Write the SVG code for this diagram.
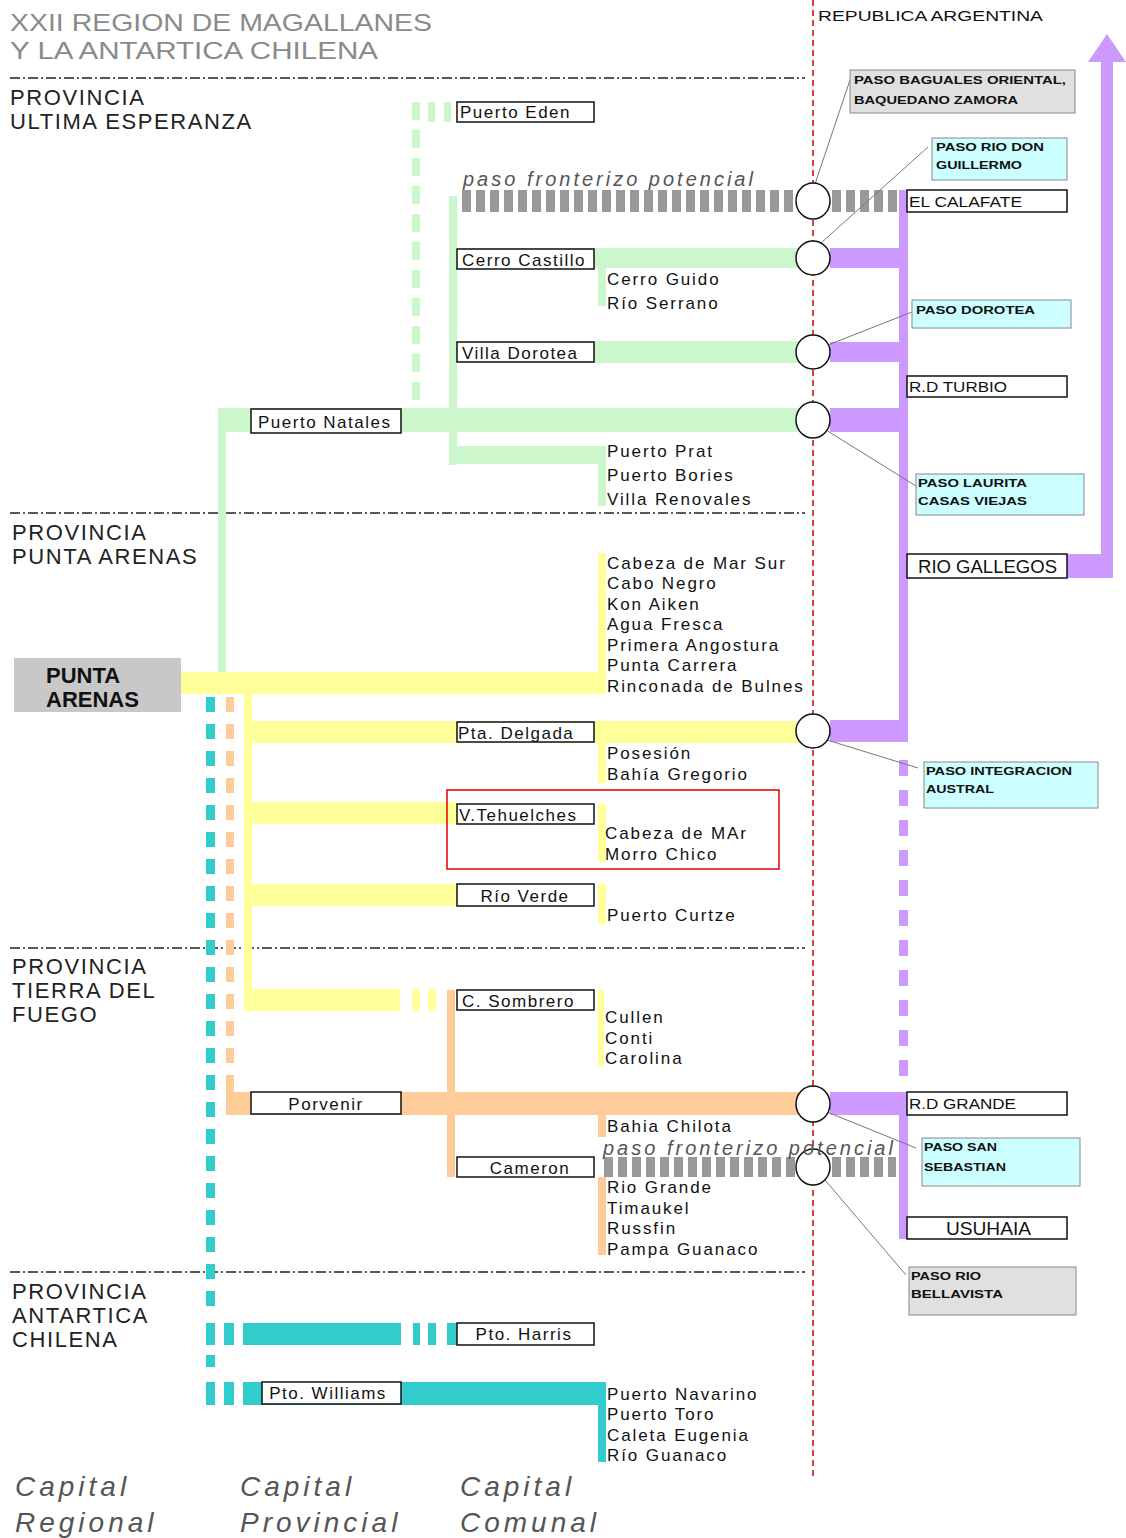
<svg xmlns="http://www.w3.org/2000/svg" width="1126" height="1538" viewBox="0 0 1126 1538">
<style>
.t{font-family:"Liberation Sans",Arial,sans-serif}
.title{font-size:24px;fill:#8a8a8a}
.prov{font-size:22px;fill:#222;letter-spacing:1.6px}
.leg{font-size:28px;fill:#555;font-style:italic;letter-spacing:4px}
.lst{font-size:17px;fill:#111;letter-spacing:1.9px}
.box{fill:#fff;stroke:#111;stroke-width:1.5}
.bl{font-size:17px;fill:#111;letter-spacing:1.5px}
.rb{font-size:15px;fill:#111}
.sm{font-size:11.5px;fill:#111;font-weight:bold}
.cy{fill:#ccffff;stroke:#888;stroke-width:1}
.gy{fill:#e0e0e0;stroke:#888;stroke-width:1}
.pot{font-size:20px;fill:#555;font-style:italic;letter-spacing:3px}
.div{stroke:#222;stroke-width:1.5;stroke-dasharray:10 3 2 3;fill:none}
.g{fill:#ccf7cc}.y{fill:#ffff99}.o{fill:#ffcc99}.c{fill:#33cccc}.p{fill:#cc99ff}
.lead{stroke:#777;stroke-width:1;fill:none}
.circ{fill:#fff;stroke:#111;stroke-width:1.5}
</style>

<g id="titles" class="t">
<text class="title" x="10" y="31" textLength="422" lengthAdjust="spacingAndGlyphs">XXII REGION DE MAGALLANES</text>
<text class="title" x="10" y="59" textLength="368" lengthAdjust="spacingAndGlyphs">Y LA ANTARTICA CHILENA</text>
<text x="818" y="21" font-size="15" fill="#111" textLength="225" lengthAdjust="spacingAndGlyphs">REPUBLICA ARGENTINA</text>
</g>

<g id="dividers">
<line class="div" x1="10" y1="78" x2="805" y2="78"/>
<line class="div" x1="10" y1="513" x2="805" y2="513"/>
<line class="div" x1="10" y1="948" x2="805" y2="948"/>
<line class="div" x1="10" y1="1272" x2="805" y2="1272"/>
</g>

<g id="provinces" class="t">
<text class="prov" x="10" y="105">PROVINCIA</text>
<text class="prov" x="10" y="129">ULTIMA ESPERANZA</text>
<text class="prov" x="12" y="540">PROVINCIA</text>
<text class="prov" x="12" y="564">PUNTA ARENAS</text>
<text class="prov" x="12" y="974">PROVINCIA</text>
<text class="prov" x="12" y="998">TIERRA DEL</text>
<text class="prov" x="12" y="1022">FUEGO</text>
<text class="prov" x="12" y="1299">PROVINCIA</text>
<text class="prov" x="12" y="1323">ANTARTICA</text>
<text class="prov" x="12" y="1347">CHILENA</text>
</g>

<g id="connectors">
<!-- green -->
<line x1="416" y1="102" x2="416" y2="408" stroke="#ccf7cc" stroke-width="8" stroke-dasharray="18 10"/>
<rect class="g" x="428" y="102" width="7" height="20"/>
<rect class="g" x="444" y="102" width="7" height="20"/>
<rect class="g" x="218" y="408" width="582" height="24"/>
<rect class="g" x="218" y="408" width="8" height="264"/>
<rect class="g" x="449" y="196" width="8" height="269"/>
<rect class="g" x="449" y="248" width="351" height="20"/>
<rect class="g" x="598" y="268" width="8" height="38"/>
<rect class="g" x="449" y="341" width="351" height="22"/>
<rect class="g" x="449" y="446" width="157" height="18"/>
<rect class="g" x="598" y="446" width="8" height="60"/>
<!-- gray potential -->
<line x1="462" y1="201" x2="800" y2="201" stroke="#999" stroke-width="22" stroke-dasharray="9 5"/>
<line x1="832" y1="201" x2="900" y2="201" stroke="#999" stroke-width="22" stroke-dasharray="9 5"/>
<line x1="604" y1="1167" x2="800" y2="1167" stroke="#999" stroke-width="20" stroke-dasharray="9 5"/>
<line x1="832" y1="1167" x2="896" y2="1167" stroke="#999" stroke-width="20" stroke-dasharray="9 5"/>
<!-- yellow -->
<rect class="y" x="181" y="672" width="425" height="22"/>
<rect class="y" x="598" y="553" width="8" height="141"/>
<rect class="y" x="244" y="694" width="8" height="317"/>
<rect class="y" x="244" y="721" width="556" height="22"/>
<rect class="y" x="598" y="743" width="8" height="40"/>
<rect class="y" x="244" y="802" width="213" height="22"/>
<rect class="y" x="598" y="804" width="8" height="58"/>
<rect class="y" x="244" y="884" width="213" height="22"/>
<rect class="y" x="598" y="884" width="8" height="40"/>
<rect class="y" x="244" y="989" width="156" height="22"/>
<rect class="y" x="412" y="989" width="8" height="22"/>
<rect class="y" x="428" y="989" width="8" height="22"/>
<rect class="y" x="598" y="990" width="6" height="76"/>
<!-- orange -->
<line x1="230" y1="697" x2="230" y2="1085" stroke="#ffcc99" stroke-width="8" stroke-dasharray="15 12"/>
<rect class="o" x="226" y="1085" width="8" height="30"/>
<rect class="o" x="226" y="1092" width="574" height="23"/>
<rect class="o" x="447" y="990" width="8" height="187"/>
<rect class="o" x="598" y="1115" width="8" height="22"/>
<rect class="o" x="598" y="1177" width="8" height="78"/>
<!-- teal -->
<line x1="210.5" y1="697" x2="210.5" y2="1312" stroke="#33cccc" stroke-width="9" stroke-dasharray="15 12"/>
<rect class="c" x="206" y="1355" width="9" height="12"/>
<rect class="c" x="206" y="1323" width="9" height="22"/>
<rect class="c" x="224" y="1323" width="10" height="22"/>
<rect class="c" x="243" y="1323" width="158" height="22"/>
<rect class="c" x="413" y="1323" width="7" height="22"/>
<rect class="c" x="428" y="1323" width="8" height="22"/>
<rect class="c" x="447" y="1323" width="10" height="22"/>
<rect class="c" x="206" y="1382" width="9" height="23"/>
<rect class="c" x="224" y="1382" width="10" height="23"/>
<rect class="c" x="243" y="1382" width="363" height="23"/>
<rect class="c" x="598" y="1382" width="8" height="80"/>
<!-- purple -->
<rect class="p" x="830" y="248" width="78" height="20"/>
<rect class="p" x="830" y="342" width="78" height="20"/>
<rect class="p" x="830" y="408" width="78" height="24"/>
<rect class="p" x="830" y="720" width="78" height="22"/>
<rect class="p" x="830" y="1092" width="78" height="23"/>
<rect class="p" x="899" y="190" width="9" height="552"/>
<line x1="903.5" y1="760" x2="903.5" y2="1090" stroke="#cc99ff" stroke-width="9" stroke-dasharray="16 14"/>
<rect class="p" x="899" y="1092" width="9" height="147"/>
<rect class="p" x="1067" y="554" width="46" height="24"/>
<rect class="p" x="1101" y="60" width="12" height="518"/>
<polygon class="p" points="1088,62 1126,62 1107,34"/>
<!-- border -->
<line x1="813" y1="0" x2="813" y2="1480" stroke="#cc0000" stroke-width="1.5" stroke-dasharray="6 4"/>
<!-- leaders -->
<line class="lead" x1="815" y1="184" x2="850" y2="80"/>
<line class="lead" x1="821" y1="243" x2="928" y2="147"/>
<line class="lead" x1="828" y1="345" x2="912" y2="312"/>
<line class="lead" x1="826" y1="430" x2="916" y2="486"/>
<line class="lead" x1="827" y1="740" x2="918" y2="768"/>
<line class="lead" x1="827" y1="1112" x2="916" y2="1148"/>
<line class="lead" x1="825" y1="1180" x2="906" y2="1275"/>
</g>

<g id="crossings">
<ellipse class="circ" cx="813" cy="201" rx="17" ry="18"/>
<ellipse class="circ" cx="813" cy="258" rx="17" ry="17"/>
<ellipse class="circ" cx="813" cy="352" rx="17" ry="17"/>
<ellipse class="circ" cx="813" cy="420" rx="17" ry="18"/>
<ellipse class="circ" cx="813" cy="731" rx="17" ry="17"/>
<ellipse class="circ" cx="813" cy="1104" rx="17" ry="18"/>
<ellipse class="circ" cx="813" cy="1167" rx="17" ry="18"/>
</g>

<g id="punta-arenas" class="t">
<rect x="14" y="658" width="167" height="54" fill="#c8c8c8"/>
<text x="46" y="683" font-size="22" font-weight="bold" fill="#111">PUNTA</text>
<text x="46" y="707" font-size="22" font-weight="bold" fill="#111">ARENAS</text>
</g>

<g id="puerto-eden" class="t"><rect class="box" x="457" y="102" width="137" height="20"/><text class="bl" x="460" y="118">Puerto Eden</text></g>
<g id="cerro-castillo" class="t"><rect class="box" x="457" y="249" width="137" height="20"/><text class="bl" x="462" y="266">Cerro Castillo</text></g>
<g id="villa-dorotea" class="t"><rect class="box" x="457" y="342" width="137" height="20"/><text class="bl" x="462" y="359">Villa Dorotea</text></g>
<g id="puerto-natales" class="t"><rect class="box" x="251" y="409" width="150" height="24"/><text class="bl" x="258" y="428">Puerto Natales</text></g>
<g id="pta-delgada" class="t"><rect class="box" x="457" y="722" width="137" height="20"/><text class="bl" x="458" y="739">Pta. Delgada</text></g>
<g id="v-tehuelches" class="t"><rect class="box" x="457" y="804" width="137" height="20"/><text class="bl" x="459" y="821" letter-spacing="1">V.Tehuelches</text></g>
<g id="rio-verde" class="t"><rect class="box" x="457" y="884" width="137" height="22"/><text class="bl" x="525" y="902" text-anchor="middle">Río Verde</text></g>
<g id="c-sombrero" class="t"><rect class="box" x="457" y="990" width="137" height="20"/><text class="bl" x="462" y="1007">C. Sombrero</text></g>
<g id="porvenir" class="t"><rect class="box" x="251" y="1092" width="150" height="22"/><text class="bl" x="326" y="1110" text-anchor="middle">Porvenir</text></g>
<g id="cameron" class="t"><rect class="box" x="457" y="1157" width="137" height="20"/><text class="bl" x="530" y="1174" text-anchor="middle">Cameron</text></g>
<g id="pto-harris" class="t"><rect class="box" x="457" y="1323" width="137" height="22"/><text class="bl" x="524" y="1340" text-anchor="middle">Pto. Harris</text></g>
<g id="pto-williams" class="t"><rect class="box" x="262" y="1382" width="139" height="22"/><text class="bl" x="328" y="1399" text-anchor="middle">Pto. Williams</text></g>

<g id="potential-labels" class="t">
<text class="pot" x="463" y="186">paso fronterizo potencial</text>
<text class="pot" x="603" y="1155">paso fronterizo potencial</text>
</g>

<g id="localities" class="t">
<text class="lst" x="607" y="285">Cerro Guido</text>
<text class="lst" x="607" y="309">Río Serrano</text>
<text class="lst" x="607" y="457">Puerto Prat</text>
<text class="lst" x="607" y="481">Puerto Bories</text>
<text class="lst" x="607" y="505">Villa Renovales</text>
<text class="lst" x="607" y="569">Cabeza de Mar Sur</text>
<text class="lst" x="607" y="589">Cabo Negro</text>
<text class="lst" x="607" y="610">Kon Aiken</text>
<text class="lst" x="607" y="630">Agua Fresca</text>
<text class="lst" x="607" y="651">Primera Angostura</text>
<text class="lst" x="607" y="671">Punta Carrera</text>
<text class="lst" x="607" y="692">Rinconada de Bulnes</text>
<text class="lst" x="607" y="759">Posesión</text>
<text class="lst" x="607" y="780">Bahía Gregorio</text>
<text class="lst" x="605" y="839">Cabeza de MAr</text>
<text class="lst" x="605" y="860">Morro Chico</text>
<text class="lst" x="607" y="921">Puerto Curtze</text>
<text class="lst" x="605" y="1023">Cullen</text>
<text class="lst" x="605" y="1044">Conti</text>
<text class="lst" x="605" y="1064">Carolina</text>
<text class="lst" x="607" y="1132">Bahia Chilota</text>
<text class="lst" x="607" y="1193">Rio Grande</text>
<text class="lst" x="607" y="1214">Timaukel</text>
<text class="lst" x="607" y="1234">Russfin</text>
<text class="lst" x="607" y="1255">Pampa Guanaco</text>
<text class="lst" x="607" y="1400">Puerto Navarino</text>
<text class="lst" x="607" y="1420">Puerto Toro</text>
<text class="lst" x="607" y="1441">Caleta Eugenia</text>
<text class="lst" x="607" y="1461">Río Guanaco</text>
</g>

<g id="highlight"><rect x="447" y="790" width="332" height="79" fill="none" stroke="#e00000" stroke-width="1.5"/></g>

<g id="el-calafate" class="t"><rect class="box" x="907" y="190" width="160" height="22"/><text class="rb" x="909" y="207" textLength="113" lengthAdjust="spacingAndGlyphs">EL CALAFATE</text></g>
<g id="rd-turbio" class="t"><rect class="box" x="907" y="376" width="160" height="21"/><text class="rb" x="909" y="392" textLength="98" lengthAdjust="spacingAndGlyphs">R.D TURBIO</text></g>
<g id="rio-gallegos" class="t"><rect class="box" x="907" y="554" width="160" height="24"/><text x="918" y="573" font-size="18" fill="#111" textLength="139" lengthAdjust="spacingAndGlyphs">RIO GALLEGOS</text></g>
<g id="rd-grande" class="t"><rect class="box" x="907" y="1092" width="160" height="23"/><text class="rb" x="909" y="1109" textLength="107" lengthAdjust="spacingAndGlyphs">R.D GRANDE</text></g>
<g id="usuhaia" class="t"><rect class="box" x="907" y="1217" width="160" height="22"/><text x="946" y="1235" font-size="18" fill="#111" textLength="85" lengthAdjust="spacingAndGlyphs">USUHAIA</text></g>

<g id="paso-baguales" class="t"><rect class="gy" x="850" y="70" width="225" height="43"/><text class="sm" x="854" y="84" textLength="212" lengthAdjust="spacingAndGlyphs">PASO BAGUALES ORIENTAL,</text><text class="sm" x="854" y="104" textLength="164" lengthAdjust="spacingAndGlyphs">BAQUEDANO ZAMORA</text></g>
<g id="paso-don-guillermo" class="t"><rect class="cy" x="932" y="138" width="135" height="42"/><text class="sm" x="936" y="151" textLength="108" lengthAdjust="spacingAndGlyphs">PASO RIO DON</text><text class="sm" x="936" y="169" textLength="86" lengthAdjust="spacingAndGlyphs">GUILLERMO</text></g>
<g id="paso-dorotea" class="t"><rect class="cy" x="912" y="300" width="159" height="28"/><text class="sm" x="916" y="314" textLength="119" lengthAdjust="spacingAndGlyphs">PASO DOROTEA</text></g>
<g id="paso-laurita" class="t"><rect class="cy" x="916" y="474" width="168" height="41"/><text class="sm" x="918" y="487" textLength="109" lengthAdjust="spacingAndGlyphs">PASO LAURITA</text><text class="sm" x="918" y="505" textLength="109" lengthAdjust="spacingAndGlyphs">CASAS VIEJAS</text></g>
<g id="paso-integracion" class="t"><rect class="cy" x="924" y="762" width="174" height="46"/><text class="sm" x="926" y="775" textLength="146" lengthAdjust="spacingAndGlyphs">PASO INTEGRACION</text><text class="sm" x="926" y="793" textLength="68" lengthAdjust="spacingAndGlyphs">AUSTRAL</text></g>
<g id="paso-san-sebastian" class="t"><rect class="cy" x="922" y="1138" width="158" height="48"/><text class="sm" x="924" y="1151" textLength="73" lengthAdjust="spacingAndGlyphs">PASO SAN</text><text class="sm" x="924" y="1171" textLength="82" lengthAdjust="spacingAndGlyphs">SEBASTIAN</text></g>
<g id="paso-bellavista" class="t"><rect class="gy" x="909" y="1267" width="167" height="48"/><text class="sm" x="911" y="1280" textLength="70" lengthAdjust="spacingAndGlyphs">PASO RIO</text><text class="sm" x="911" y="1298" textLength="92" lengthAdjust="spacingAndGlyphs">BELLAVISTA</text></g>

<g id="legend" class="t">
<text class="leg" x="15" y="1496">Capital</text>
<text class="leg" x="15" y="1532">Regional</text>
<text class="leg" x="240" y="1496">Capital</text>
<text class="leg" x="240" y="1532">Provincial</text>
<text class="leg" x="460" y="1496">Capital</text>
<text class="leg" x="460" y="1532">Comunal</text>
</g>
</svg>
